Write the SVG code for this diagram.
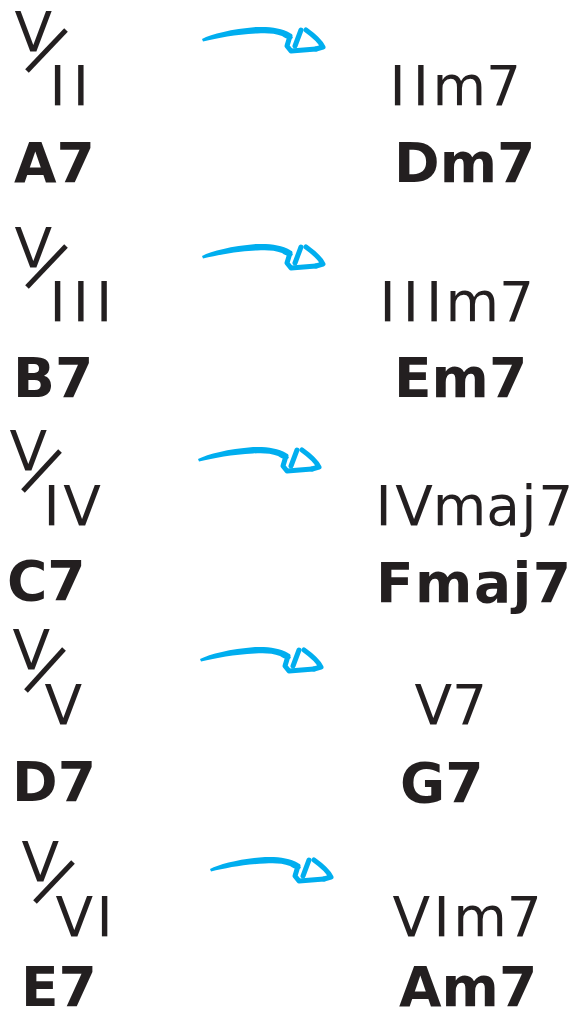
<svg xmlns="http://www.w3.org/2000/svg" xmlns:xlink="http://www.w3.org/1999/xlink" width="579" height="1019" viewBox="0 0 579 1019">
<style>
text{font-family:"DejaVu Sans","Verdana",sans-serif;font-size:55px;fill:#231f20}
.b{font-weight:bold}
.sl{stroke:#231f20;stroke-width:5;stroke-linecap:butt}
.ah{fill:none;stroke:#00aeef;stroke-width:5;stroke-linecap:round;stroke-linejoin:round}
.ab{fill:#00aeef}
</style>
<defs>
<g id="arrow">
<path class="ab" d="M202,39 C212,34 232,29 257,27 C270,26.5 282,28 290,33 L293,38 C290,40 286,39 282,36 C274,33 266,33 257,33.5 C236,34.5 218,38 203,41.5 Z"/>
<path class="ah" d="M290,36 L287,46 L291,51 L316,49"/>
<path class="ah" d="M301,30 L295,46"/>
<path class="ah" d="M306,30 C313,35 320,41 323,47 L316,49"/>
</g>
</defs>

<g id="row1-left">
<text x="14.5" y="51">V</text>
<line class="sl" x1="66" y1="30" x2="27" y2="71"/>
<text x="49.5 72.7" y="105">II</text>
<text class="b" x="14" y="182">A7</text>
</g>
<g id="row1-right">
<text x="389.5 412.7 432.4 485.9" y="105">IIm7</text>
<text class="b" x="394" y="182">Dm7</text>
</g>

<g id="row2-left">
<text x="14.5" y="267">V</text>
<line class="sl" x1="66" y1="246" x2="27" y2="287"/>
<text x="49.5 72.7 95.9" y="321">III</text>
<text class="b" x="13" y="397">B7</text>
</g>
<g id="row2-right">
<text x="379.5 402.7 425.9 445.6 499.1" y="321">IIIm7</text>
<text class="b" x="394" y="397">Em7</text>
</g>

<g id="row3-left">
<text x="9.5" y="470">V</text>
<line class="sl" x1="60" y1="451" x2="23" y2="491"/>
<text x="43.5 63.2" y="525">IV</text>
<text class="b" x="7" y="600">C7</text>
</g>
<g id="row3-right">
<text x="375.5 395.2 432.8 486.3 521.2 538.3" y="525">IVmaj7</text>
<text class="b" x="376" y="602" style="letter-spacing:1.5px">Fmaj7</text>
</g>

<g id="row4-left">
<text x="12.5" y="669">V</text>
<line class="sl" x1="64" y1="649" x2="26" y2="691"/>
<text x="44.5" y="724">V</text>
<text class="b" x="12" y="801">D7</text>
</g>
<g id="row4-right">
<text x="414.5" y="724">V7</text>
<text class="b" x="400" y="802">G7</text>
</g>

<g id="row5-left">
<text x="21.5" y="881">V</text>
<line class="sl" x1="73" y1="862" x2="35" y2="902"/>
<text x="55.5 96.6" y="936">VI</text>
<text class="b" x="21" y="1006">E7</text>
</g>
<g id="row5-right">
<text x="392.5 433.6 453.3 506.8" y="936">VIm7</text>
<text class="b" x="399" y="1006">Am7</text>
</g>

<g id="connectors">
<use xlink:href="#arrow"/>
<use xlink:href="#arrow" transform="translate(0,217)"/>
<use xlink:href="#arrow" transform="translate(-4,420)"/>
<use xlink:href="#arrow" transform="translate(-2,620)"/>
<use xlink:href="#arrow" transform="translate(8,830)"/>
</g>
</svg>
